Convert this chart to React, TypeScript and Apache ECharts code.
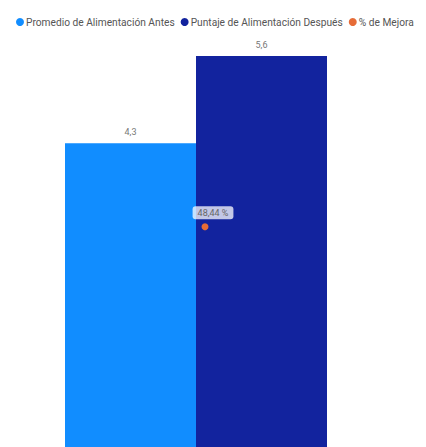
import React, { useEffect, useRef } from "react";
import * as echarts from "echarts";

const categories = [""];
const antesValues = [4.32];
const despuesValues = [5.56];
const mejoraValues = [48.44];
const seriesNames = [
  "Promedio de Alimentación Antes",
  "Puntaje de Alimentación Después",
  "% de Mejora",
];

const fmt1 = (v: number) => v.toFixed(1).replace(".", ",");
const fmt2 = (v: number) => v.toFixed(2).replace(".", ",") + " %";

export default function App() {
  const ref = useRef<HTMLDivElement>(null);
  useEffect(() => {
    const chart = echarts.init(ref.current!, null, { renderer: "svg" });
    const font = "Roboto, 'Noto Sans', sans-serif";
    chart.setOption({
      animation: false,
      textStyle: { fontFamily: font },
      legend: {
        top: 12,
        left: 11,
        width: 420,
        icon: "circle",
        itemWidth: 8,
        itemHeight: 8,
        itemGap: 6,
        textStyle: { fontSize: 10.2, color: "#555", fontFamily: font, padding: [0, 0, 0, -3] },
        data: seriesNames,
      },
      grid: { left: 65, right: 99, top: 56, bottom: -5.6 },
      xAxis: {
        type: "category",
        data: categories,
        show: false,
      },
      yAxis: [
        { type: "value", min: 0, max: 5.56, show: false },
        { type: "value", min: 0, max: 86, show: false },
      ],
      series: [
        {
          name: seriesNames[0],
          type: "bar",
          data: antesValues,
          barGap: "0%",
          barCategoryGap: "0%",
          itemStyle: { color: "#118DFF" },
          label: {
            show: true,
            position: "top",
            distance: 7,
            fontSize: 9,
            color: "#777",
            formatter: (p: any) => fmt1(p.value),
          },
        },
        {
          name: seriesNames[1],
          type: "bar",
          data: despuesValues,
          barGap: "0%",
          barCategoryGap: "0%",
          itemStyle: { color: "#12239E" },
          label: {
            show: true,
            position: "top",
            distance: 7,
            fontSize: 9,
            color: "#777",
            formatter: (p: any) => fmt1(p.value),
          },
        },
        {
          name: seriesNames[2],
          type: "line",
          yAxisIndex: 1,
          data: mejoraValues,
          symbol: "circle",
          symbolSize: 7,
          symbolOffset: [9, 0],
          itemStyle: { color: "#E66C37" },
          label: {
            show: true,
            position: "top",
            distance: 4,
            offset: [8, 0],
            fontSize: 9,
            color: "#666",
            backgroundColor: "rgba(255,255,255,0.75)",
            padding: [2, 5],
            borderRadius: 3,
            formatter: (p: any) => fmt2(p.value),
          },
        },
      ],
    });
    return () => chart.dispose();
  }, []);
  return (
    <div
      ref={ref}
      style={{ position: "absolute", left: 0, top: 0, width: 426, height: 447 }}
    />
  );
}
